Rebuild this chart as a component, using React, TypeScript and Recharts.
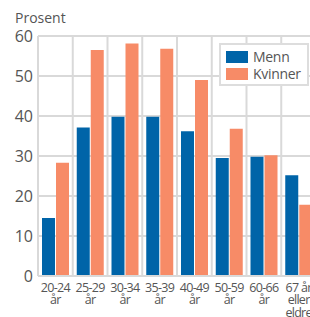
import { BarChart, Bar, XAxis, YAxis, CartesianGrid } from "recharts";

const ageGroups = ["20-24 år", "25-29 år", "30-34 år", "35-39 år", "40-49 år", "50-59 år", "60-66 år", "67 år eller eldre"];
const tickLines = [["20-24", "år"], ["25-29", "år"], ["30-34", "år"], ["35-39", "år"], ["40-49", "år"], ["50-59", "år"], ["60-66", "år"], ["67 år", "eller", "eldre"]];
const menn = [14.5, 37.1, 39.8, 39.8, 36.2, 29.5, 29.8, 25.2];
const kvinner = [28.3, 56.5, 58.1, 56.8, 49.0, 36.8, 30.2, 17.8];
const yTicks = [0, 10, 20, 30, 40, 50, 60];

const BLUE = "#0064a8";
const ORANGE = "#f78b67";
const GRID = "#d9d9d9";
const TEXT = "#555555";
const FONT = "'Open Sans', sans-serif";

const data = ageGroups.map((g, i) => ({ group: g, menn: menn[i], kvinner: kvinner[i] }));

function AgeTick({ x, y, index }: any) {
  const lines = tickLines[index] || [];
  return (
    <text x={x} y={y} textAnchor="middle" fill={TEXT} fontSize={12.5} letterSpacing={-0.7} fontFamily={FONT}>
      {lines.map((l, i) => (
        <tspan key={i} x={x} y={y + 7.5 + i * 12.5}>{l}</tspan>
      ))}
    </text>
  );
}

function LegendBox() {
  const items = [{ name: "Menn", color: BLUE }, { name: "Kvinner", color: ORANGE }];
  return (
    <div style={{ position: "absolute", left: 219, top: 43, border: "2px solid #dddddd", background: "#fff", padding: "4px 5px", width: 90, height: 43, boxSizing: "border-box", fontFamily: FONT }}>
      {items.map((it) => (
        <div key={it.name} style={{ display: "flex", alignItems: "center", height: 16.5 }}>
          <span style={{ width: 22, height: 12, background: it.color, display: "inline-block", marginRight: 5 }} />
          <span style={{ fontSize: 14, color: TEXT, lineHeight: "16px", letterSpacing: -0.3 }}>{it.name}</span>
        </div>
      ))}
    </div>
  );
}

export default function App() {
  return (
    <div style={{ position: "absolute", left: 0, top: 0, width: 310, height: 317, overflow: "hidden", background: "#fff" }}>
      <div style={{ position: "absolute", left: 15, top: 8, fontSize: 14, color: TEXT, fontFamily: FONT }}>Prosent</div>
      <BarChart
        width={316}
        height={317}
        data={data}
        margin={{ top: 36, right: 0, bottom: 0, left: 0 }}
        barGap={1}
        barCategoryGap={4}
      >
        <CartesianGrid
          stroke={GRID}
          strokeWidth={2}
          verticalCoordinatesGenerator={({ offset }: any) =>
            data.map((_, i) => offset.left + ((i + 1) * offset.width) / data.length)
          }
        />
        <XAxis
          dataKey="group"
          interval={0}
          tick={<AgeTick />}
          tickLine={false}
          axisLine={{ stroke: GRID, strokeWidth: 2 }}
          height={41}
        />
        <YAxis
          domain={[0, 60]}
          ticks={yTicks}
          width={38}
          tickLine={false}
          tickSize={0}
          tickMargin={5}
          axisLine={{ stroke: GRID, strokeWidth: 2 }}
          tick={{ fill: TEXT, fontSize: 16, fontFamily: FONT }}
        />
        <Bar dataKey="menn" name="Menn" fill={BLUE} isAnimationActive={false} />
        <Bar dataKey="kvinner" name="Kvinner" fill={ORANGE} isAnimationActive={false} />
      </BarChart>
      <LegendBox />
    </div>
  );
}
